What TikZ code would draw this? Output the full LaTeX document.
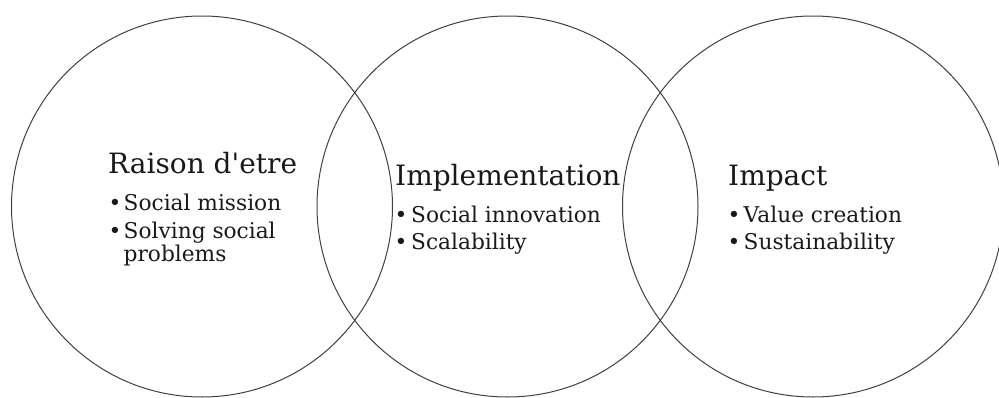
\documentclass[tikz,border=0pt]{standalone}
\usepackage{fontspec}
\setmainfont{DejaVu Serif}[Ligatures=TeXOff]
\begin{document}
\begin{tikzpicture}[x=1pt,y=-1pt,
  ring/.style={circle,draw=black!75,line width=1pt,minimum size=381pt,inner sep=0pt},
  ttl/.style={anchor=base west,inner sep=0pt,font=\fontsize{28}{32}\selectfont,text=black!90},
  itm/.style={anchor=base west,inner sep=0pt,font=\fontsize{21.7}{24}\selectfont,text=black!90},
  bul/.style={anchor=base west,inner sep=0pt,font=\fontsize{21.7}{24}\selectfont,text=black!90}]
\useasboundingbox (0,0) rectangle (999,397);
\node[ring] (c1) at (202,206.5) {};
\node[ring] (c2) at (507.5,206.5) {};
\node[ring] (c3) at (813,206.5) {};
% circle 1
\node[ttl] (t1) at (108,173) {Raison d'etre};
\node[bul] (b11) at (108.5,210.5) {\textbullet};
\node[itm] (i11) at (123.5,210.5) {Social mission};
\node[bul] (b12) at (108.5,238) {\textbullet};
\node[itm] (i12) at (123.5,238) {Solving social};
\node[itm] (i13) at (123.5,261) {problems};
% circle 2
\node[ttl] (t2) at (395,185) {Implementation};
\node[bul] (b21) at (394.5,222.5) {\textbullet};
\node[itm] (i21) at (411,222.5) {Social innovation};
\node[bul] (b22) at (394.5,249.5) {\textbullet};
\node[itm] (i22) at (411,249.5) {Scalability};
% circle 3
\node[ttl] (t3) at (728,185) {Impact};
\node[bul] (b31) at (727.5,222.5) {\textbullet};
\node[itm] (i31) at (743.5,222.5) {Value creation};
\node[bul] (b32) at (727.5,249.5) {\textbullet};
\node[itm] (i32) at (743.5,249.5) {Sustainability};
\end{tikzpicture}
\end{document}
